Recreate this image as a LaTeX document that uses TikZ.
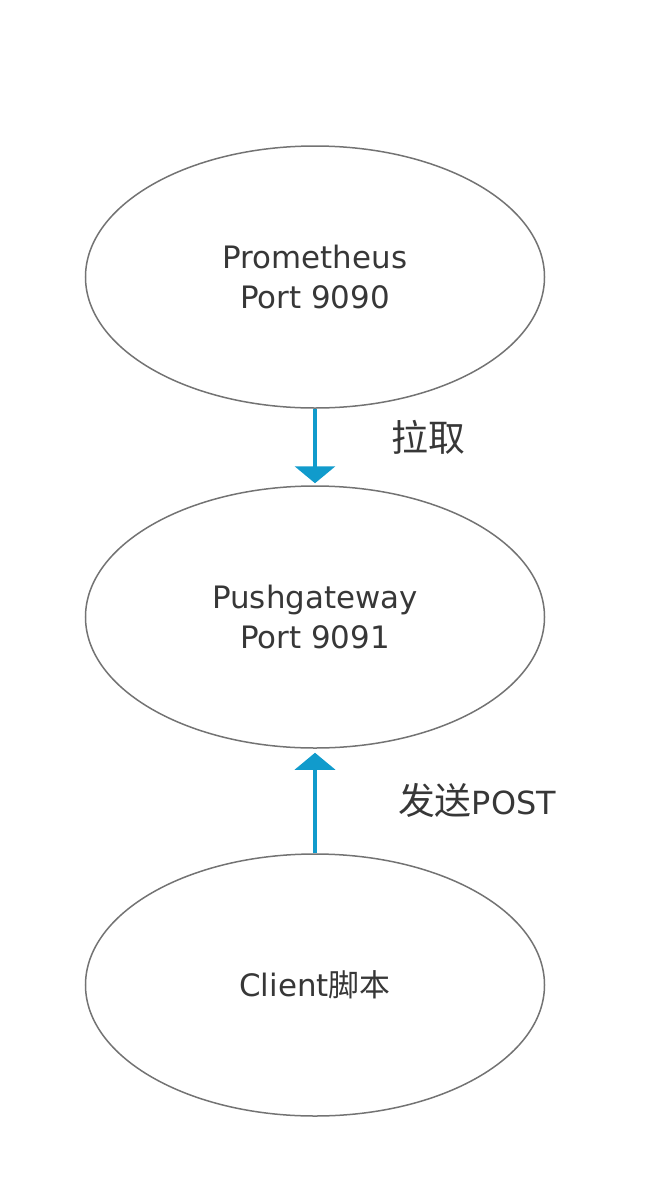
\documentclass[tikz,border=0pt]{standalone}
\usepackage{fontspec}
\setmainfont{DejaVu Sans}
\newfontfamily\cjk{Noto Sans CJK SC}
\usetikzlibrary{shapes.geometric,arrows.meta}
\definecolor{flowblue}{RGB}{17,155,204}
\definecolor{rimgray}{RGB}{115,115,115}
\definecolor{inkgray}{RGB}{55,55,55}
\tikzset{
    svc/.style={ellipse, draw=rimgray, line width=1.5bp, minimum width=459bp, minimum height=262bp,
        text=inkgray, align=center, font=\fontsize{31}{41}\selectfont},
    flow/.style={draw=flowblue, line width=4bp, -{Triangle[width=40bp, length=17bp]}, color=flowblue},
    tag/.style={text=inkgray, font=\fontsize{32}{36}\selectfont}
}
\begin{document}
\begin{tikzpicture}[x=1bp, y=-1bp]
            %\draw[lightgray] (0, 0) grid (658, 1190);
            \useasboundingbox (0, 0) rectangle (658, 1190);
            \node[svc] (prom) at (315, 277) {Prometheus\\Port 9090};
            \node[svc] (push) at (315, 617) {Pushgateway\\Port 9091};
            \node[svc] (client) at (315, 985) {Client{\cjk 脚本}};
            \draw[flow, shorten >=2bp] (prom.south) -- (push.north);
            \node[tag] (pull) at (428, 437) {{\cjk\fontsize{37}{37}\selectfont 拉取}};
            \draw[flow, shorten >=4bp] (client.north) -- (push.south);
            \node[tag] (send) at (477, 800) {{\cjk\fontsize{37}{37}\selectfont 发送}POST};
        \end{tikzpicture}
\end{document}
